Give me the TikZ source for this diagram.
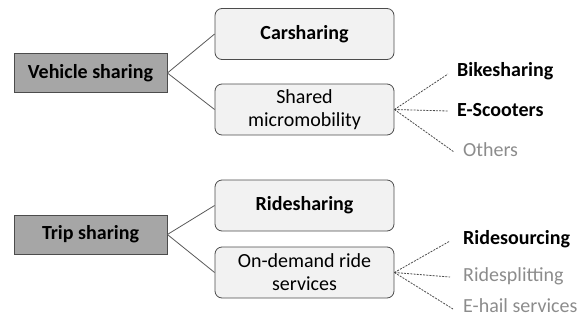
\documentclass[tikz,border=0pt]{standalone}
\usepackage{fontspec}
\setmainfont{Carlito}
\begin{document}
\begin{tikzpicture}[x=1pt,y=-1pt,
  font=\fontsize{20}{23}\selectfont,
  rootbox/.style={draw=black!70, fill=black!35, line width=0.8pt, minimum width=153pt, minimum height=39pt, inner sep=0pt, font=\fontsize{20}{23}\selectfont\bfseries},
  subbox/.style={draw=black!70, fill=black!5, rounded corners=7pt, line width=0.8pt, minimum width=179pt, minimum height=51pt, inner sep=0pt, align=center},
  leaf/.style={anchor=west, inner sep=0pt},
  leafstrong/.style={leaf, font=\fontsize{20}{23}\selectfont\bfseries},
  leafsoft/.style={leaf, text=black!45},
  tie/.style={draw=black!65, line width=0.8pt},
  dashtie/.style={draw=black!70, line width=0.8pt, dash pattern=on 2pt off 1.2pt}]
\useasboundingbox (0,0) rectangle (581,327);

% vehicle sharing branch
\node[rootbox] (veh) at (90.5,73) {Vehicle sharing};
\node[subbox, font=\fontsize{20}{23}\selectfont\bfseries] (car) at (304.5,34) {Carsharing};
\node[subbox] (micro) at (304.5,109.5) {Shared\\micromobility};
\draw[tie] (veh.east) -- (car.west);
\draw[tie] (veh.east) -- (micro.west);

\node[leafstrong] (bike) at (457,71) {Bikesharing};
\node[leafstrong] (scoot) at (457,110) {E-Scooters};
\node[leafsoft] (oth) at (463,150) {Others};
\draw[dashtie] (micro.east) -- ([xshift=-9pt,yshift=-3pt]bike.west);
\draw[dashtie] (micro.east) -- ([xshift=-9pt,yshift=-1pt]scoot.west);
\draw[dashtie] (micro.east) -- ([xshift=-9pt,yshift=-2pt]oth.west);

% trip sharing branch
\node[rootbox] (trip) at (90.5,234.5) {Trip sharing};
\node[subbox, font=\fontsize{20}{23}\selectfont\bfseries] (ride) at (304.5,205.5) {Ridesharing};
\node[subbox] (ondem) at (304.5,272.5) {On-demand ride\\services};
\draw[tie] (trip.east) -- (ride.west);
\draw[tie] (trip.east) -- (ondem.west);

\node[leafstrong] (rsrc) at (463,239) {Ridesourcing};
\node[leafsoft] (rspl) at (463,276) {Ridesplitting};
\node[leafsoft] (ehail) at (463,306) {E-hail services};
\draw[dashtie] (ondem.east) -- ([xshift=-13pt,yshift=-2pt]rsrc.west);
\draw[dashtie] (ondem.east) -- ([xshift=-13pt,yshift=-1pt]rspl.west);
\draw[dashtie] (ondem.east) -- ([xshift=-10pt,yshift=-3pt]ehail.west);
\end{tikzpicture}
\end{document}
